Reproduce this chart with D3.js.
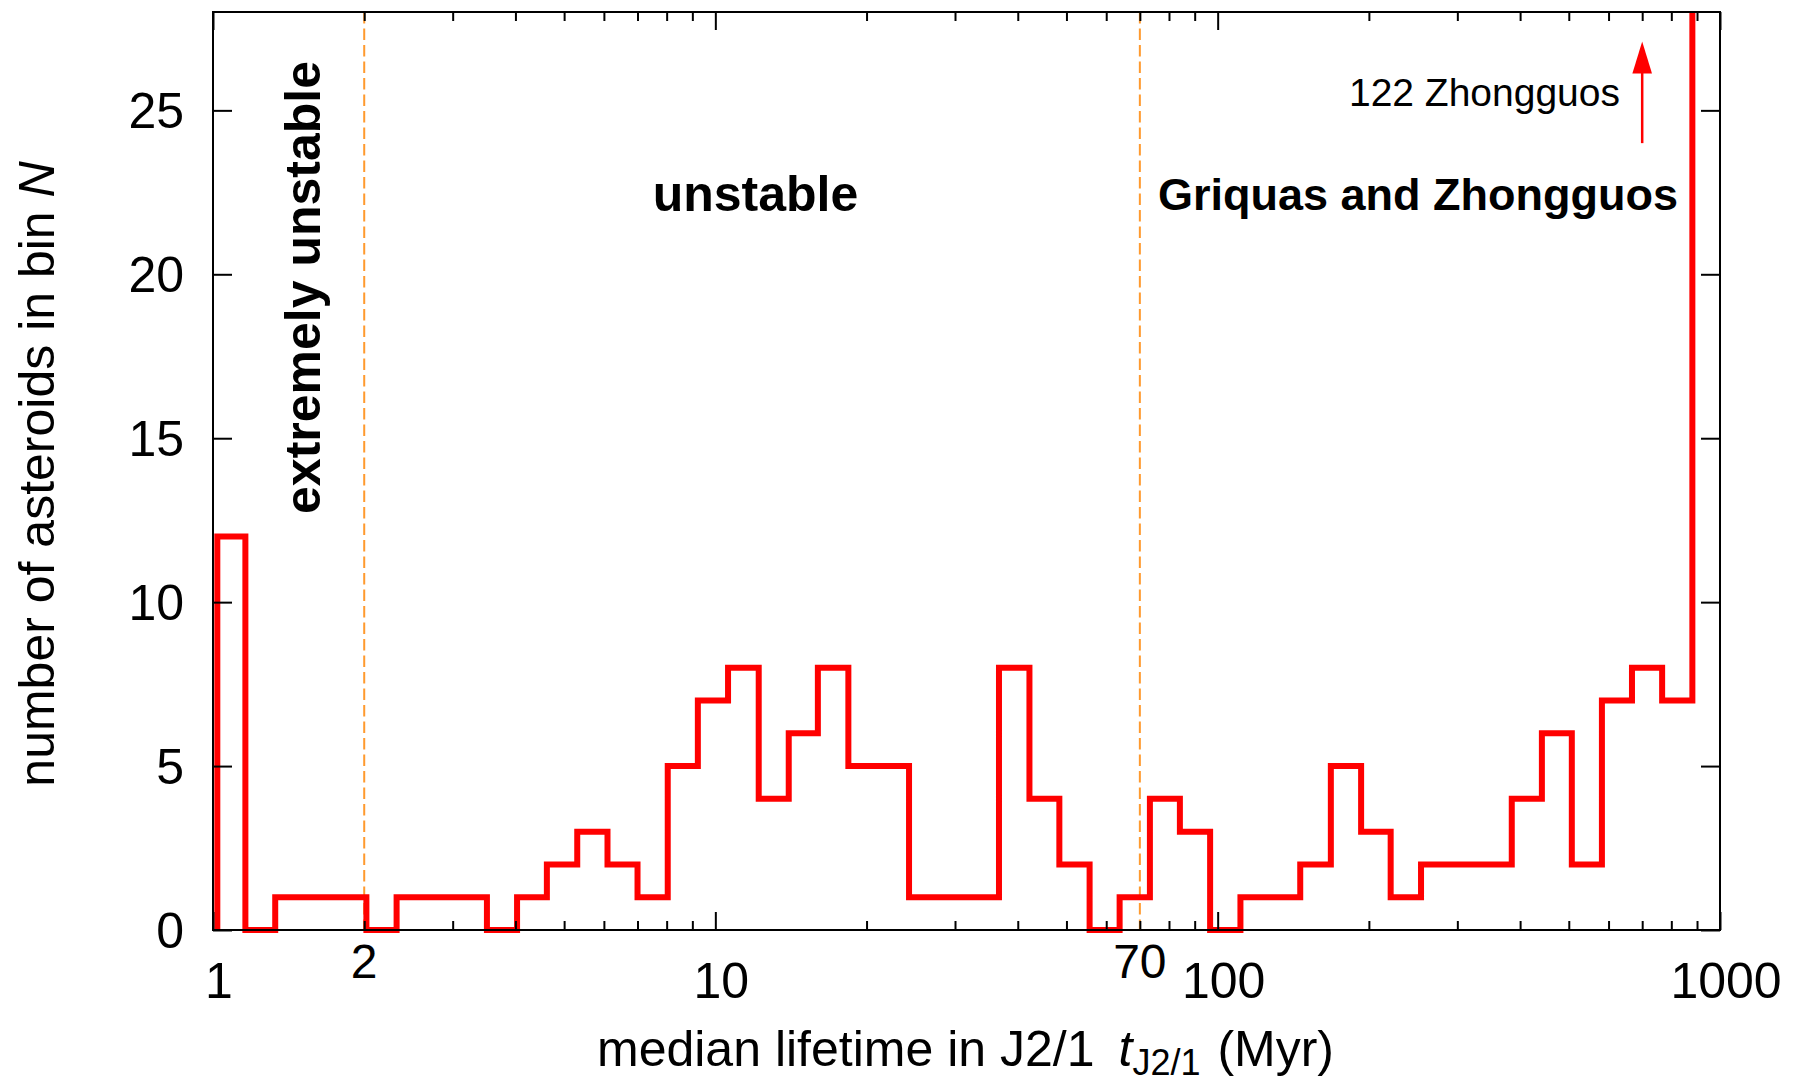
<!DOCTYPE html>
<html><head><meta charset="utf-8">
<script src="https://cdn.jsdelivr.net/npm/d3@7"></script>
<style>
html,body{margin:0;padding:0;background:#fff;}
svg{display:block;font-family:"Liberation Sans",Arial,Helvetica,sans-serif;}
</style></head><body>
<svg id="chart" width="1801" height="1084"></svg>
<script>
// ---- data ----
const binEdges = [1.02, 1.16, 1.33, 1.53, 1.76, 2.02, 2.32, 2.66, 3.05, 3.51, 4.03, 4.62, 5.31, 6.10, 7.00, 8.04, 9.23, 10.6, 12.2, 14.0, 16.0, 18.4, 21.1, 24.3, 27.9, 32.0, 36.7, 42.2, 48.4, 55.6, 63.8, 73.3, 84.1, 96.6, 111, 127, 146, 168, 193, 221, 254, 292, 335, 385, 442, 507, 582, 668, 767, 881, 1000];
const counts = [12,0,1,1,1,0,1,1,1,0, 1,2,3,2,1,5,7,8,4,6, 8,5,5,1,1,1,8,4,2,0, 1,4,3,0,1,1,2,5,3,1, 2,2,2,4,6,2,7,8,7,122];
const yTickValues = [0,5,10,15,20,25];
const xMajorTicks = [1,10,100,1000];
const xMajorLabels = ["1","10","100","1000"];
const xBoundaries = [2,70];
const xBoundaryLabels = ["2","70"];
const regionLabels = ["extremely unstable","unstable","Griquas and Zhongguos"];
const overflowNote = "122 Zhongguos";
const arrowAt = {x:700, from:24.0, to:27.1};

// ---- layout ----
const W=1801, H=1084;
const m = {left:213, right:1720, top:12, bottom:930};
const x = d3.scaleLog().domain([1,1000]).range([m.left,m.right]);
const y = d3.scaleLinear().domain([0,28]).range([m.bottom,m.top]);
const svg = d3.select("#chart");
svg.append("rect").attr("width",W).attr("height",H).attr("fill","#fff");

svg.append("defs").append("clipPath").attr("id","plotclip")
  .append("rect").attr("x",m.left).attr("y",m.top)
  .attr("width",m.right-m.left).attr("height",m.bottom-m.top+5);

// dashed boundaries
svg.append("g").selectAll("line").data(xBoundaries).join("line")
  .attr("x1",d=>x(d)).attr("x2",d=>x(d)).attr("y1",m.top).attr("y2",m.bottom)
  .attr("stroke","#ff9a2e").attr("stroke-width",2).attr("stroke-dasharray","11.5,5");

// histogram steps
const pts = [{x:binEdges[0], y:0}]
  .concat(counts.map((v,i)=>({x:binEdges[i], y:v})))
  .concat([{x:binEdges[binEdges.length-1], y:counts[counts.length-1]}]);
const line = d3.line().x(d=>x(d.x)).y(d=>y(d.y)).curve(d3.curveStepAfter);
svg.append("path").attr("clip-path","url(#plotclip)")
  .attr("d", line(pts)).attr("fill","none").attr("stroke","#ff0000")
  .attr("stroke-width",6).attr("stroke-linejoin","miter");

// axes (ticks inward)
const minorTicks = x.ticks().filter(v=>!xMajorTicks.includes(v));
function styleAxis(g){ g.select(".domain").remove(); g.selectAll(".tick line").attr("stroke","#000").attr("stroke-width",2); g.selectAll(".tick text").remove(); }
svg.append("g").attr("transform",`translate(0,${m.bottom})`).call(d3.axisBottom(x).tickValues(xMajorTicks).tickSize(-18).tickFormat("")).call(styleAxis);
svg.append("g").attr("transform",`translate(0,${m.bottom})`).call(d3.axisBottom(x).tickValues(minorTicks).tickSize(-9).tickFormat("")).call(styleAxis);
svg.append("g").attr("transform",`translate(0,${m.top})`).call(d3.axisTop(x).tickValues(xMajorTicks).tickSize(-18).tickFormat("")).call(styleAxis);
svg.append("g").attr("transform",`translate(0,${m.top})`).call(d3.axisTop(x).tickValues(minorTicks).tickSize(-9).tickFormat("")).call(styleAxis);
svg.append("g").attr("transform",`translate(${m.left},0)`).call(d3.axisLeft(y).tickValues(yTickValues).tickSize(-19).tickFormat("")).call(styleAxis);
svg.append("g").attr("transform",`translate(${m.right},0)`).call(d3.axisRight(y).tickValues(yTickValues).tickSize(-19).tickFormat("")).call(styleAxis);
svg.append("rect").attr("x",m.left).attr("y",m.top).attr("width",m.right-m.left).attr("height",m.bottom-m.top)
  .attr("fill","none").attr("stroke","#000").attr("stroke-width",2);

// tick labels
svg.append("g").selectAll("text").data(yTickValues).join("text")
  .attr("x",184).attr("y",d=>y(d)).attr("dy","0.35em").attr("text-anchor","end")
  .attr("font-size",50).attr("fill","#000").text(d=>d);
svg.append("g").selectAll("text").data(xMajorTicks).join("text")
  .attr("x",d=>x(d)+6).attr("y",998).attr("text-anchor","middle")
  .attr("font-size",50).attr("fill","#000").text((d,i)=>xMajorLabels[i]);
svg.append("g").selectAll("text").data(xBoundaries).join("text")
  .attr("x",d=>x(d)).attr("y",978).attr("text-anchor","middle")
  .attr("font-size",48).attr("fill","#000").text((d,i)=>xBoundaryLabels[i]);

// axis titles
const yt = svg.append("text").attr("transform","translate(54,474) rotate(-90)")
  .attr("text-anchor","middle").attr("font-size",50).attr("fill","#000");
yt.append("tspan").text("number of asteroids in bin ");
yt.append("tspan").attr("font-style","italic").text("N");

const xt = svg.append("text").attr("x",597).attr("y",1066).attr("font-size",50).attr("fill","#000");
xt.append("tspan").text("median lifetime in J2/1");
xt.append("tspan").attr("dx",24).attr("font-style","italic").text("t");
xt.append("tspan").attr("dy",9).attr("font-size",36).text("J2/1");
xt.append("tspan").attr("dy",-9).attr("dx",17).text("(Myr)");

// region annotations
svg.append("text").attr("transform","translate(320,287.5) rotate(-90)").attr("text-anchor","middle")
  .attr("font-size",50).attr("font-weight","bold").attr("fill","#000").text(regionLabels[0]);
svg.append("text").attr("x",755.5).attr("y",211).attr("text-anchor","middle")
  .attr("font-size",50).attr("font-weight","bold").attr("fill","#000").text(regionLabels[1]);
svg.append("text").attr("x",1418).attr("y",210).attr("text-anchor","middle")
  .attr("font-size",45).attr("font-weight","bold").attr("fill","#000").text(regionLabels[2]);

// overflow note + arrow
svg.append("text").attr("x",1620).attr("y",106).attr("text-anchor","end")
  .attr("font-size",39).attr("fill","#000").text(overflowNote);
const ax = x(arrowAt.x), ay0 = y(arrowAt.from), ay1 = y(arrowAt.to);
svg.append("line").attr("x1",ax).attr("x2",ax).attr("y1",ay0).attr("y2",ay1+28)
  .attr("stroke","#ff0000").attr("stroke-width",2.5);
svg.append("path").attr("d",`M${ax},${ay1} L${ax-9.8},${ay1+32} L${ax+9.8},${ay1+32} Z`).attr("fill","#ff0000");
</script>
</body></html>
